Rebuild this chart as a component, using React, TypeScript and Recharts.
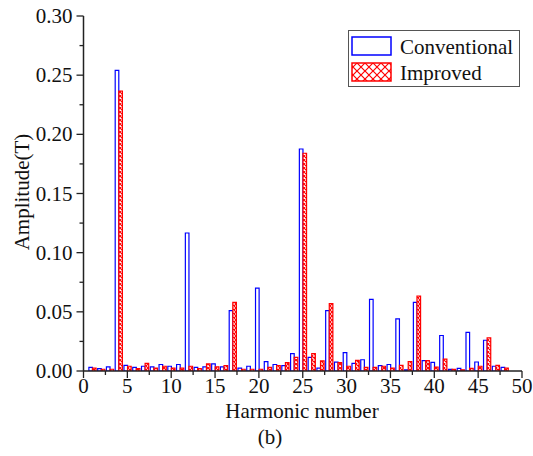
import React from "react";
import { BarChart, Bar, XAxis, YAxis } from "recharts";

// harmonic order
const harmonics = [
	1, 2, 3, 4, 5, 6, 7, 8, 9, 10, 11, 12, 13, 14, 15, 16, 17, 18, 19, 20, 21, 22, 23, 24,
	25, 26, 27, 28, 29, 30, 31, 32, 33, 34, 35, 36, 37, 38, 39, 40, 41, 42, 43, 44, 45, 46, 47, 48,
];

// amplitude (T)
const conventional = [
	0.003, 0.002, 0.0035, 0.254, 0.0048, 0.003, 0.004, 0.0035, 0.0055, 0.004, 0.0055, 0.1166,
	0.003, 0.0035, 0.006, 0.0035, 0.051, 0.0025, 0.004, 0.07, 0.008, 0.0055, 0.0045, 0.0146,
	0.1876, 0.0115, 0.0025, 0.051, 0.0075, 0.0155, 0.0065, 0.0095, 0.0605, 0.0045, 0.0055, 0.044,
	0.001, 0.058, 0.0087, 0.0073, 0.03, 0.0014, 0.0022, 0.0327, 0.0076, 0.026, 0.004, 0.003,
];
const improved = [
	0.0025, 0.0015, 0.0015, 0.2366, 0.004, 0.002, 0.0065, 0.0025, 0.004, 0.0025, 0.0025, 0.004,
	0.002, 0.006, 0.0035, 0.0045, 0.058, 0.0015, 0.0015, 0.0015, 0.003, 0.0045, 0.007, 0.0115,
	0.184, 0.0146, 0.0085, 0.057, 0.007, 0.004, 0.009, 0.003, 0.003, 0.004, 0.0025, 0.0048,
	0.008, 0.0634, 0.0087, 0.0034, 0.01, 0.0014, 0.001, 0.0022, 0.004, 0.028, 0.0048, 0.0025,
];

const xTicks = [0, 2.5, 5, 7.5, 10, 12.5, 15, 17.5, 20, 22.5, 25, 27.5, 30, 32.5, 35, 37.5, 40, 42.5, 45, 47.5, 50];
const yTicks = [0, 0.025, 0.05, 0.075, 0.1, 0.125, 0.15, 0.175, 0.2, 0.225, 0.25, 0.275, 0.3];

const data = harmonics.map((n, i) => ({ n, conventional: conventional[i], improved: improved[i] }));

const FONT = "Liberation Serif, DejaVu Serif, serif";
const AXIS = "#222";
const txt = { fontFamily: FONT, fontSize: 21, fill: "#111" };

const isMajor = (v: number, step: number) => Math.abs(v / step - Math.round(v / step)) < 1e-6;

const YTick = (props: any) => {
	const { x, y, payload } = props;
	const major = isMajor(payload.value, 0.05);
	return (
		<g>
			<line x1={x} x2={x - (major ? 7 : 4)} y1={y} y2={y} stroke={AXIS} strokeWidth={1.3} />
			{major && (
				<text x={x - 11} y={y} textAnchor="end" dominantBaseline="central" style={txt}>
					{payload.value.toFixed(2)}
				</text>
			)}
		</g>
	);
};

const XTick = (props: any) => {
	const { x, y, payload } = props;
	const major = isMajor(payload.value, 5);
	return (
		<g>
			<line x1={x} x2={x} y1={y} y2={y + (major ? 7 : 4)} stroke={AXIS} strokeWidth={1.3} />
			{major && (
				<text x={x} y={y + 15} textAnchor="middle" dominantBaseline="central" style={txt}>
					{payload.value}
				</text>
			)}
		</g>
	);
};

const App = () => {
	return (
		<div style={{ position: "absolute", left: 0, top: 0, width: 533, height: 456, background: "#fff", fontFamily: FONT }}>
			<svg width={0} height={0} style={{ position: "absolute" }}>
				<defs>
					<pattern id="hatchRed" patternUnits="userSpaceOnUse" width={4} height={4}>
						<rect width={4} height={4} fill="#fff" />
						<path d="M0,0 L4,4 M4,0 L0,4" stroke="#ff0000" strokeWidth={1.1} />
					</pattern>
					<pattern id="hatchRedBig" patternUnits="userSpaceOnUse" width={8} height={8}>
						<rect width={8} height={8} fill="#fff" />
						<path d="M0,0 L8,8 M8,0 L0,8" stroke="#ff0000" strokeWidth={1.2} />
					</pattern>
				</defs>
			</svg>
			<BarChart
				width={533}
				height={456}
				data={data}
				margin={{ top: 16, right: 11, bottom: 55, left: 23.5 }}
				barGap={0}
				barSize={3.6}
			>
				<XAxis
					dataKey="n"
					type="number"
					domain={[0, 50]}
					ticks={xTicks}
					interval={0}
					height={30}
					tickSize={0}
					tickMargin={0}
					tick={<XTick />}
					axisLine={{ stroke: AXIS, strokeWidth: 1.5 }}
					allowDataOverflow
				/>
				<YAxis
					type="number"
					domain={[0, 0.3]}
					ticks={yTicks}
					interval={0}
					width={60}
					tickSize={0}
					tickMargin={0}
					tick={<YTick />}
					axisLine={{ stroke: AXIS, strokeWidth: 1.5 }}
					allowDataOverflow
				/>
				<Bar dataKey="conventional" fill="#fff" stroke="#0000ff" strokeWidth={1.2} isAnimationActive={false} />
				<Bar dataKey="improved" fill="url(#hatchRed)" stroke="#ff0000" strokeWidth={1.2} isAnimationActive={false} />
			</BarChart>

			{/* legend */}
			<div style={{ position: "absolute", left: 348, top: 30, width: 172, height: 57, border: "1.5px solid #555", boxSizing: "border-box" }}>
				<svg width={172} height={57} style={{ position: "absolute", left: 0, top: 0 }}>
					<rect x={3} y={6} width={39} height={18} fill="#fff" stroke="#0000ff" strokeWidth={1.5} />
					<rect x={3} y={32} width={39} height={18} fill="url(#hatchRedBig)" stroke="#ff0000" strokeWidth={1.5} />
					<text x={51} y={16} dominantBaseline="central" style={txt}>Conventional</text>
					<text x={51} y={42} dominantBaseline="central" style={txt}>Improved</text>
				</svg>
			</div>

			{/* axis titles */}
			<svg width={533} height={456} style={{ position: "absolute", left: 0, top: 0, pointerEvents: "none" }}>
				<text x={22} y={192} transform="rotate(-90 22 192)" textAnchor="middle" dominantBaseline="central" style={txt}>
					Amplitude(T)
				</text>
				<text x={302} y={411} textAnchor="middle" dominantBaseline="central" style={txt}>
					Harmonic number
				</text>
				<text x={270} y={437} textAnchor="middle" dominantBaseline="central" style={txt}>
					(b)
				</text>
			</svg>
		</div>
	);
};

export default App;
